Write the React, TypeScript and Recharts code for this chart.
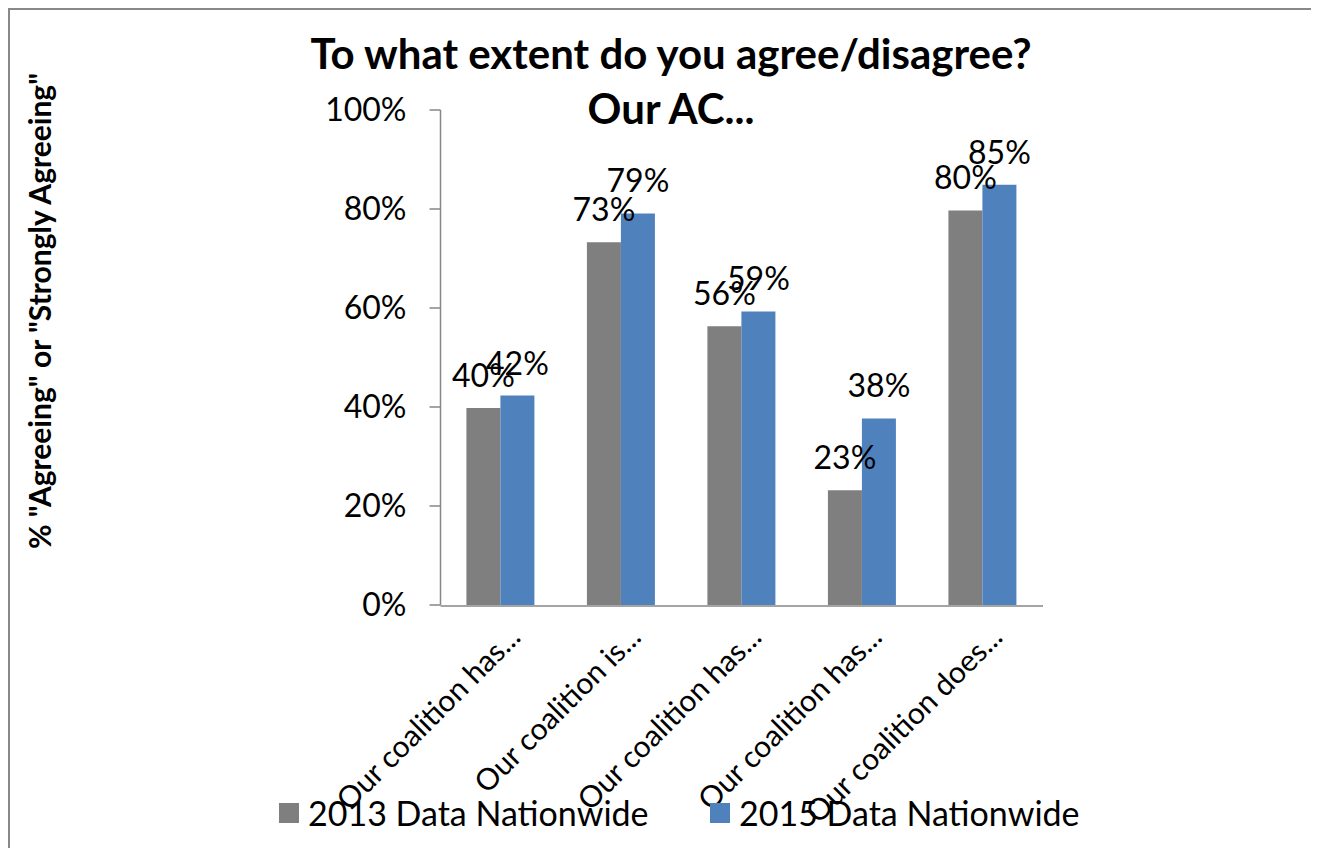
import React from 'react'
import { BarChart, Bar, XAxis, YAxis, LabelList } from 'recharts'

const CATEGORIES = ['Our coalition has...', 'Our coalition is...', 'Our coalition has...', 'Our coalition has...', 'Our coalition does...']
const SERIES_2013 = [0.398, 0.733, 0.563, 0.232, 0.797]
const SERIES_2015 = [0.423, 0.791, 0.593, 0.377, 0.849]
const SERIES_NAMES = ['2013 Data Nationwide', '2015 Data Nationwide']
const Y_TICKS = [0, 0.2, 0.4, 0.6, 0.8, 1]
const TITLE_LINES = ['To what extent do you agree/disagree?', 'Our AC...']
const Y_TITLE = '% "Agreeing" or "Strongly Agreeing"'

const GRAY = '#7f7f7f'
const BLUE = '#4f81bd'
const AXIS = '#868686'
const FONT = 'Lato, "Open Sans", sans-serif'

const rows = CATEGORIES.map((name, i) => ({ name, v13: SERIES_2013[i], v15: SERIES_2015[i] }))
const edgeTicks = [...CATEGORIES.map((_, i) => i), CATEGORIES.length]

const pct = (v: any) => `${Math.round(Number(v) * 100)}%`

function CatTick({ x, y, payload }: any) {
  const ax = x + 21.5
  const ay = y + 34
  return (
    <text x={ax} y={ay} transform={`rotate(-45, ${ax}, ${ay})`} textAnchor="end" fontSize={30} fontFamily={FONT} fill="#000">
      {payload.value}
    </text>
  )
}

export default function App() {
  const legend = [
    { name: SERIES_NAMES[0], color: GRAY, left: 271 },
    { name: SERIES_NAMES[1], color: BLUE, left: 702 },
  ]
  return (
    <div style={{ position: 'relative', width: 1311, height: 840, fontFamily: FONT }}>
      <div style={{ position: 'absolute', left: 0, top: 0, width: 1311, height: 840 }}>
        <BarChart width={1311} height={840} data={rows} margin={{ top: 102, right: 276, bottom: 241, left: 352.5 }} barCategoryGap="21.5%" barGap={0}>
          <XAxis xAxisId="edge" type="number" domain={[0, CATEGORIES.length]} ticks={edgeTicks} tick={false} tickSize={11} height={1}
            axisLine={{ stroke: AXIS, strokeWidth: 1.5 }} tickLine={{ stroke: AXIS, strokeWidth: 1.5 }} allowDataOverflow />
          <XAxis xAxisId="cat" dataKey="name" interval={0} axisLine={false} tickLine={false} tickSize={0} tickMargin={0} height={1} tick={<CatTick />} />
          <YAxis domain={[0, 1]} ticks={Y_TICKS} tickFormatter={pct} width={80} tickSize={11} tickMargin={23}
            axisLine={{ stroke: AXIS, strokeWidth: 1.5 }} tickLine={{ stroke: AXIS, strokeWidth: 1.5 }}
            tick={{ fontSize: 32, fontFamily: FONT, fill: '#000' }} />
          <Bar xAxisId="cat" dataKey="v13" name={SERIES_NAMES[0]} fill={GRAY} isAnimationActive={false}>
            <LabelList dataKey="v13" position="top" offset={21} formatter={pct} fill="#000" fontSize={32} fontFamily={FONT} />
          </Bar>
          <Bar xAxisId="cat" dataKey="v15" name={SERIES_NAMES[1]} fill={BLUE} isAnimationActive={false}>
            <LabelList dataKey="v15" position="top" offset={21} formatter={pct} fill="#000" fontSize={32} fontFamily={FONT} />
          </Bar>
        </BarChart>
      </div>
      <div style={{ position: 'absolute', left: 243, top: 18, width: 840, textAlign: 'center', fontWeight: 700, fontSize: 42, lineHeight: '55px', color: '#000', whiteSpace: 'nowrap' }}>
        {TITLE_LINES.map((t, i) => <div key={i}>{t}</div>)}
      </div>
      <div style={{ position: 'absolute', left: 31, top: 303, transform: 'translate(-50%, -50%) rotate(-90deg)', whiteSpace: 'nowrap', fontWeight: 700, fontSize: 30, color: '#000' }}>
        {Y_TITLE}
      </div>
      {legend.map(l => (
        <div key={l.name} style={{ position: 'absolute', left: l.left, top: 785, height: 40, display: 'flex', alignItems: 'center', whiteSpace: 'nowrap' }}>
          <span style={{ width: 20, height: 20, background: l.color, marginRight: 9 }} />
          <span style={{ fontSize: 34, lineHeight: '40px', color: '#000' }}>{l.name}</span>
        </div>
      ))}
      <div style={{ position: 'absolute', left: 0, top: 0, width: 1311, height: 2, background: '#888', zIndex: 5 }} />
      <div style={{ position: 'absolute', left: 0, top: 0, width: 2, height: 848, background: '#888', zIndex: 5 }} />
    </div>
  )
}
